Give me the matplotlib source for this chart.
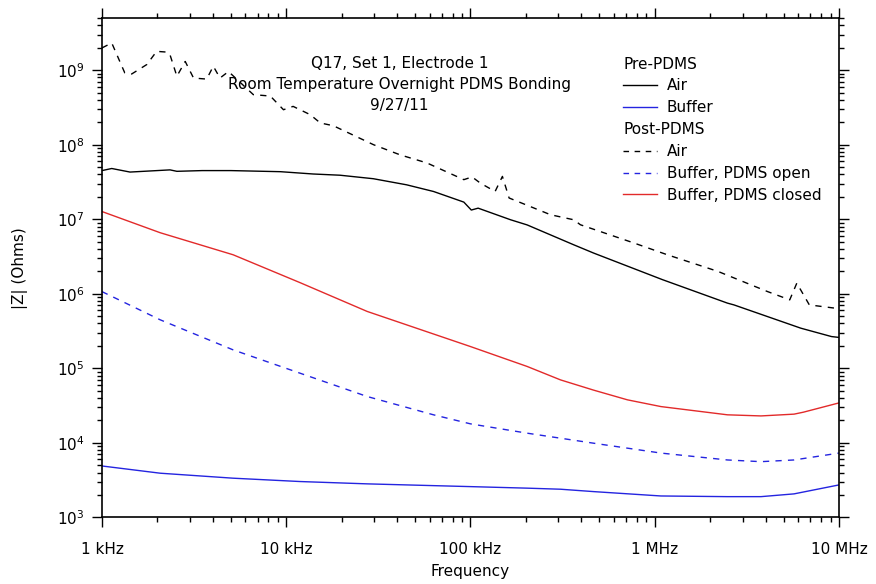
import matplotlib
matplotlib.use('Agg')
import matplotlib.pyplot as plt
import numpy as np
from matplotlib.lines import Line2D
from matplotlib.ticker import LogLocator, NullFormatter

# === Impedance data (Hz, Ohms) ===
freq_pre_air = [1e3, 1.13e3, 1.42e3, 2.34e3, 2.55e3, 3.5e3, 5e3, 9.3e3, 14e3, 19.6e3,
                29.7e3, 45e3, 63e3, 92e3, 101e3, 110e3, 165e3, 203e3, 363e3, 466e3,
                1.1e6, 2.48e6, 2.69e6, 5.7e6, 6.2e6, 9.1e6, 1e7]
z_pre_air = [4.5e7, 4.8e7, 4.3e7, 4.6e7, 4.4e7, 4.5e7, 4.5e7, 4.35e7, 4.05e7, 3.9e7,
             3.5e7, 2.9e7, 2.36e7, 1.7e7, 1.33e7, 1.41e7, 9.85e6, 8.4e6, 4.55e6, 3.52e6,
             1.55e6, 7.5e5, 7.1e5, 3.72e5, 3.46e5, 2.67e5, 2.6e5]

freq_pre_buffer = [1e3, 2.07e3, 5.15e3, 11.9e3, 27.5e3, 63e3, 100e3, 203e3, 308e3, 466e3,
                   1.08e6, 2.48e6, 3.77e6, 5.7e6, 1e7]
z_pre_buffer = [4.9e3, 3.92e3, 3.36e3, 3.03e3, 2.82e3, 2.67e3, 2.59e3, 2.47e3, 2.39e3, 2.22e3,
                1.94e3, 1.9e3, 1.9e3, 2.07e3, 2.73e3]

freq_post_air = [1e3, 1.13e3, 1.33e3, 1.45e3, 1.75e3, 1.98e3, 2.25e3, 2.34e3, 2.55e3, 2.83e3,
                 3.14e3, 3.7e3, 4.02e3, 4.37e3, 4.86e3, 6.63e3, 8.2e3, 9.66e3, 10.9e3, 13.5e3,
                 15.3e3, 18e3, 29.8e3, 41.6e3, 58e3, 92e3, 102e3, 113e3, 136e3, 149e3,
                 162e3, 272e3, 363e3, 395e3, 772e3, 1.17e6, 2.2e6, 4.1e6, 5.4e6, 5.9e6,
                 6.9e6, 9.6e6, 1e7]
z_post_air = [1.99e9, 2.32e9, 9.2e8, 8.9e8, 1.19e9, 1.79e9, 1.75e9, 1.61e9, 8.3e8, 1.31e9,
              7.85e8, 7.6e8, 1.13e9, 7.85e8, 9.6e8, 4.7e8, 4.5e8, 2.95e8, 3.27e8, 2.53e8,
              1.96e8, 1.8e8, 1.0e8, 7.3e7, 5.7e7, 3.4e7, 3.7e7, 3.06e7, 2.36e7, 3.76e7,
              1.93e7, 1.15e7, 9.85e6, 8.44e6, 4.8e6, 3.34e6, 2.0e6, 1.07e6, 8.3e5, 1.39e6,
              7.1e5, 6.4e5, 6.4e5]

freq_post_open = [1e3, 2.07e3, 5.15e3, 11.9e3, 27.5e3, 63e3, 100e3, 203e3, 466e3,
                  1.08e6, 2.48e6, 3.77e6, 5.7e6, 1e7]
z_post_open = [1.07e6, 4.48e5, 1.77e5, 8.6e4, 4.19e4, 2.38e4, 1.8e4, 1.35e4, 9.9e3,
               7.3e3, 5.9e3, 5.6e3, 5.9e3, 7.3e3]

freq_post_closed = [1e3, 2.07e3, 5.15e3, 11.9e3, 27.5e3, 100e3, 134e3, 203e3, 308e3, 466e3,
                    711e3, 1.08e6, 2.48e6, 3.77e6, 5.7e6, 6.4e6, 1e7]
z_post_closed = [1.27e7, 6.6e6, 3.34e6, 1.41e6, 5.8e5, 1.96e5, 1.52e5, 1.06e5, 7.0e4, 5.1e4,
                 3.78e4, 3.07e4, 2.38e4, 2.3e4, 2.43e4, 2.58e4, 3.44e4]

xtick_vals = [1e3, 1e4, 1e5, 1e6, 1e7]
xtick_labels = ['1 kHz', '10 kHz', '100 kHz', '1 MHz', '10 MHz']
ytick_vals = [1e3, 1e4, 1e5, 1e6, 1e7, 1e8, 1e9]

title_lines = ['Q17, Set 1, Electrode 1', 'Room Temperature Overnight PDMS Bonding', '9/27/11']

blue = '#2424e0'
red = '#e22a2a'
fs = 11

plt.rcParams['font.family'] = 'DejaVu Sans'

fig = plt.figure(figsize=(8.76, 5.84), dpi=100)
ax = fig.add_axes([0.1164, 0.114, 0.8414, 0.855])

lw = 1.0
dash = (0, (4.5, 4.5))
ax.plot(freq_pre_air, z_pre_air, color='black', lw=lw)
ax.plot(freq_pre_buffer, z_pre_buffer, color=blue, lw=lw)
ax.plot(freq_post_air, z_post_air, color='black', lw=lw, linestyle=dash)
ax.plot(freq_post_open, z_post_open, color=blue, lw=lw, linestyle=dash)
ax.plot(freq_post_closed, z_post_closed, color=red, lw=lw)

ax.set_xscale('log')
ax.set_yscale('log')
ax.set_xlim(1e3, 1e7)
ax.set_ylim(1e3, 5e9)

ax.set_xticks(xtick_vals, xtick_labels)
ax.xaxis.set_minor_locator(LogLocator(base=10, subs=np.arange(2, 10), numticks=100))
ax.xaxis.set_minor_formatter(NullFormatter())
ax.set_yticks(ytick_vals)
ax.yaxis.set_minor_locator(LogLocator(base=10, subs=np.arange(2, 10), numticks=100))
ax.yaxis.set_minor_formatter(NullFormatter())

for s in ax.spines.values():
    s.set_linewidth(1.2)
ax.tick_params(which='both', direction='out', top=True, right=True, width=1.0,
               labelsize=fs)
ax.tick_params(which='major', length=7.5)
ax.tick_params(which='minor', length=3.8)
ax.tick_params(axis='x', which='major', pad=10)
ax.tick_params(axis='y', which='major', pad=5)

ax.set_xlabel('Frequency', fontsize=fs)
ax.xaxis.set_label_coords(0.5, -0.093)
ax.set_ylabel('|Z| (Ohms)', fontsize=fs)
ax.yaxis.set_label_coords(-0.1, 0.5)

ax.text(0.404, 0.925, '\n'.join(title_lines), transform=ax.transAxes,
        ha='center', va='top', fontsize=fs, linespacing=1.5)

# legend with two group headers
handles = [
    Line2D([], [], linestyle='none'),
    Line2D([], [], color='black', lw=lw),
    Line2D([], [], color=blue, lw=lw),
    Line2D([], [], linestyle='none'),
    Line2D([], [], color='black', lw=lw, linestyle=(0, (4, 4))),
    Line2D([], [], color=blue, lw=lw, linestyle=(0, (4, 4))),
    Line2D([], [], color=red, lw=lw),
]
labels = ['Pre-PDMS', 'Air', 'Buffer', 'Post-PDMS', 'Air', 'Buffer, PDMS open',
          'Buffer, PDMS closed']
leg = ax.legend(handles, labels, loc='upper left', bbox_to_anchor=(0.707, 0.923),
                frameon=False, fontsize=fs, handlelength=2.2, handletextpad=0.65,
                labelspacing=0.45, borderpad=0, borderaxespad=0)
rows = leg._legend_handle_box.get_children()[0].get_children()
for i, row in enumerate(rows):
    if i in (0, 3):
        row.get_children()[0].width = 0
        row.sep = 0

fig.savefig('out.png', dpi=100)
